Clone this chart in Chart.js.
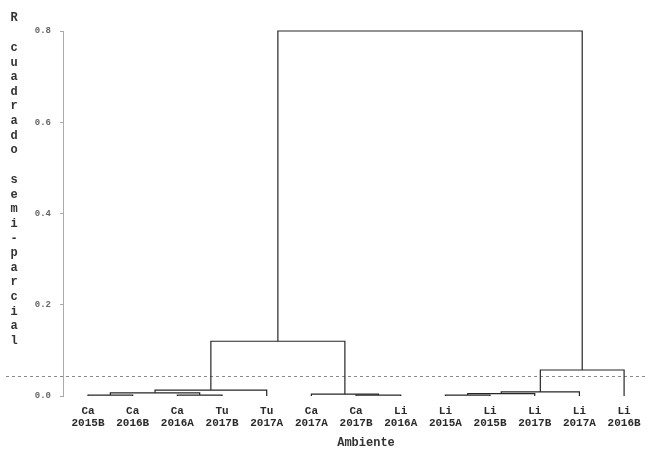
<!DOCTYPE html>
<html>
<head>
<meta charset="utf-8">
<script src="https://cdn.jsdelivr.net/npm/chart.js@4.4.0/dist/chart.umd.min.js"></script>
<style>
body { margin: 0; background: #fff; }
#wrap { width: 650px; height: 451px; position: relative; }
</style>
</head>
<body>
<div id="wrap"><canvas id="dendro"></canvas></div>
<script>
// leaves, left to right
const leafGroups = ['Ca', 'Ca', 'Ca', 'Tu', 'Tu', 'Ca', 'Ca', 'Li', 'Li', 'Li', 'Li', 'Li', 'Li'];
const leafYears = ['2015B', '2016B', '2016A', '2017B', '2017A', '2017A', '2017B', '2016A', '2015A', '2015B', '2017B', '2017A', '2016B'];

// merges (new node ids start at 13, in this order)
const mergeLeft = [0, 2, 13, 15, 6, 5, 16, 8, 20, 21, 22, 19];
const mergeRight = [1, 3, 14, 4, 7, 17, 18, 9, 10, 11, 12, 23];
const mergeHeight = [0.002, 0.002, 0.007, 0.013, 0.002, 0.004, 0.12, 0.002, 0.005, 0.009, 0.057, 0.8];

const yTicks = [0, 0.2, 0.4, 0.6, 0.8];
const cutHeight = 0.044;
const yTitleWords = ['R', 'cuadrado', 'semi-parcial'];
const xTitle = 'Ambiente';

// build the U shaped links
const nodeX = leafYears.map((_, i) => i);
const nodeH = leafYears.map(() => 0);
const links = [];
mergeLeft.forEach((l, k) => {
    const r = mergeRight[k], h = mergeHeight[k];
    links.push([
        { x: nodeX[l], y: nodeH[l] },
        { x: nodeX[l], y: h },
        { x: nodeX[r], y: h },
        { x: nodeX[r], y: nodeH[r] }
    ]);
    nodeX.push((nodeX[l] + nodeX[r]) / 2);
    nodeH.push(h);
});

// dashed cut line across the whole width
const cutLine = {
    id: 'cutLine',
    beforeDatasetsDraw(chart) {
        const ctx = chart.ctx;
        const y = Math.round(chart.scales.y.getPixelForValue(cutHeight)) + 0.5;
        ctx.save();
        ctx.strokeStyle = '#8a8a8a';
        ctx.lineWidth = 1;
        ctx.setLineDash([3, 3]);
        ctx.beginPath();
        ctx.moveTo(6, y);
        ctx.lineTo(646, y);
        ctx.stroke();
        ctx.restore();
    }
};

// axis titles: y written letter by letter, top to bottom
const axisTitles = {
    id: 'axisTitles',
    afterDraw(chart) {
        const ctx = chart.ctx;
        ctx.save();
        ctx.font = 'bold 12px "Liberation Mono", monospace';
        ctx.fillStyle = '#333';
        ctx.textAlign = 'center';
        ctx.textBaseline = 'middle';
        let y = 18;
        yTitleWords.forEach((w, i) => {
            if (i > 0) y += 30 - 14.6;
            for (const ch of w) {
                ctx.fillText(ch, 14, y);
                y += 14.6;
            }
        });
        ctx.fillText(xTitle, 366, 443);
        ctx.restore();
    }
};

new Chart(document.getElementById('dendro'), {
    type: 'scatter',
    data: {
        datasets: links.map(pts => ({
            data: pts,
            showLine: true,
            borderColor: '#262626',
            borderWidth: 1.2,
            pointRadius: 0,
            tension: 0,
            clip: false
        }))
    },
    options: {
        responsive: true,
        maintainAspectRatio: false,
        animation: false,
        layout: { padding: { top: 31, left: 0, right: 0, bottom: 0 } },
        plugins: { legend: { display: false }, tooltip: { enabled: false } },
        scales: {
            x: {
                type: 'linear',
                min: -0.56,
                max: 12.58,
                afterBuildTicks: s => { s.ticks = leafYears.map((_, i) => ({ value: i })); },
                afterFit: s => { s.height = 55; },
                grid: { display: false, drawTicks: false },
                border: { display: false },
                ticks: {
                    autoSkip: false,
                    maxRotation: 0,
                    padding: 9,
                    color: '#2a2a2a',
                    font: { family: '"Liberation Mono", monospace', size: 11, weight: 'bold', lineHeight: 1.1 },
                    callback: v => [leafGroups[v], leafYears[v]]
                }
            },
            y: {
                min: 0,
                max: 0.8,
                afterBuildTicks: s => { s.ticks = yTicks.map(v => ({ value: v })); },
                afterFit: s => { s.width = 63; },
                grid: { drawOnChartArea: false, drawTicks: true, tickLength: 3, color: '#aaa' },
                border: { display: true, color: '#aaa' },
                ticks: {
                    padding: 9,
                    color: '#666',
                    font: { family: '"Liberation Mono", monospace', size: 9, weight: 'bold' },
                    callback: v => v.toFixed(1)
                }
            }
        }
    },
    plugins: [cutLine, axisTitles]
});
</script>
</body>
</html>
